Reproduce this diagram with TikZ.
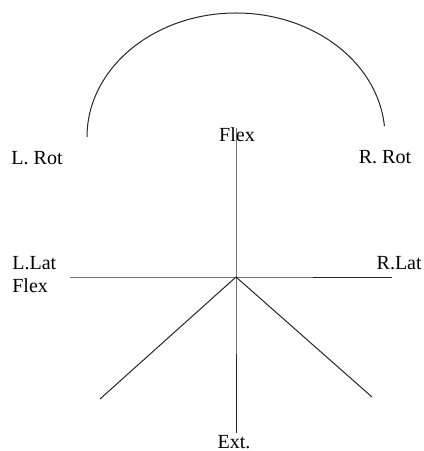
\documentclass[tikz,border=0pt]{standalone}
\usepackage{fontspec}
\setmainfont{Liberation Serif}
\usetikzlibrary{positioning, calc}

\begin{document}
\begin{tikzpicture}[
    x=0.6pt, y=-0.6pt,
    font=\fontsize{12}{14}\selectfont,
    axis/.style={draw=black!85, line width=0.6pt},
    lbl/.style={inner sep=0pt, anchor=center}
]

\useasboundingbox (0,0) rectangle (424,451);

% Centre and line ends
\coordinate (o) at (236,277);
\coordinate (lat_l) at (70,277);
\coordinate (lat_r) at (392,277);
\coordinate (flex_t) at (236,128);
\coordinate (ext_b) at (236,433);
\coordinate (diag_l) at (100,399);
\coordinate (diag_r) at (372,397);

% Labels
\node[lbl] (flex)  at (237,135) {Flex};
\node[lbl] (lrot)  at (37,158)  {L. Rot};
\node[lbl] (rrot)  at (385,157) {R. Rot};
\node[lbl, anchor=west] (llat) at (12,263) {L.Lat};
\node[lbl, anchor=west] (lflex) at (12,286) {Flex};
\node[lbl, anchor=east] (rlat) at (422,263) {R.Lat};
\node[lbl] (ext)   at (234,442) {Ext.};

% Axes
\draw[axis] (lat_l) -- (o) -- (lat_r);
\draw[axis] (flex_t) -- (o) -- (ext_b);
\draw[axis] (diag_l) -- (o) -- (diag_r);

% Rotation arc
\draw[axis] (87,137) arc[start angle=180, end angle=5, x radius=149, y radius=-124];

\end{tikzpicture}
\end{document}
